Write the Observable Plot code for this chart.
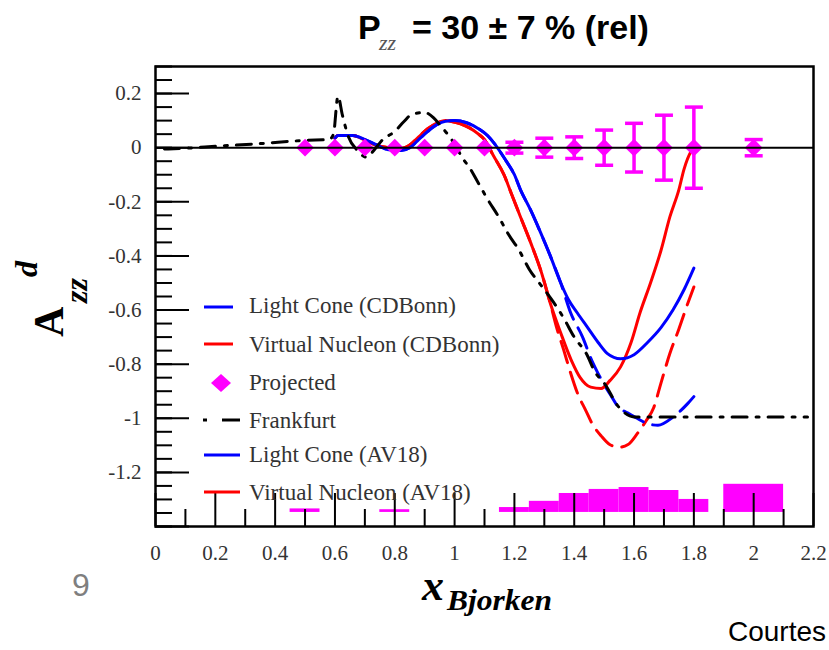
<!DOCTYPE html>
<html><head><meta charset="utf-8">
<script src="https://cdn.jsdelivr.net/npm/d3@7"></script>
<script src="https://cdn.jsdelivr.net/npm/@observablehq/plot@0.6"></script>
<style>
body{margin:0;background:#fff;}
#wrap{position:relative;width:829px;height:650px;overflow:hidden;background:#fff;}
#wrap svg{position:absolute;left:0;top:0;}
</style></head><body><div id="wrap"></div>
<script>
// ---- tick labels ----
const xTickLabels = [0,0.2,0.4,0.6,0.8,1,1.2,1.4,1.6,1.8,2,2.2];
const yTickLabels = [0.2,0,-0.2,-0.4,-0.6,-0.8,-1,-1.2];
const xMinorTicks = [0.1,0.3,0.5,0.7,0.9,1.1,1.3,1.5,1.7,1.9,2.1];
const yMajorTicks = [-1.4,-1.2,-1,-0.8,-0.6,-0.4,-0.2,0,0.2];
const yMinorTicks = d3.range(-28, 7).map(i => i * 0.05);

// ---- Projected data ----
const projX   = [0.5,0.6,0.7,0.8,0.9,1.0,1.1,1.2,1.3,1.4,1.5,1.6,1.7,1.8,2.0];
const projY   = [0,0,0,0,0,0,0,0,0,0,0,0,0,0,0];
const projErr = [0,0,0,0,0,0,0,0.02,0.035,0.04,0.065,0.09,0.12,0.15,0.03];

// ---- systematic band (bottom) ----
const sysLo  = [0.45,0.75,1.15,1.25,1.35,1.45,1.55,1.65,1.75,1.9];
const sysHi  = [0.55,0.85,1.25,1.35,1.45,1.55,1.65,1.75,1.85,2.1];
const sysTop = [-1.335,-1.338,-1.330,-1.307,-1.278,-1.263,-1.256,-1.267,-1.30,-1.244];
const sysBase = -1.348;

// ---- Light Cone (AV18) ----
const lcAV18X = [0.60,0.61,0.66,0.70,0.74,0.78,0.82,0.85,0.88,0.91,0.94,0.97,1.00,1.04,1.08,1.11,1.14,1.17,1.20,1.22,1.254,1.288,1.32,1.355,1.38,1.41,1.445,1.48,1.51,1.555,1.60,1.645,1.69,1.73,1.767,1.80];
const lcAV18Y = [0.035,0.045,0.045,0.03,0.01,-0.008,-0.01,0.0,0.03,0.06,0.085,0.098,0.10,0.092,0.07,0.045,0.005,-0.045,-0.10,-0.155,-0.23,-0.315,-0.40,-0.50,-0.56,-0.61,-0.665,-0.72,-0.76,-0.78,-0.765,-0.72,-0.665,-0.60,-0.525,-0.445];

// ---- Light Cone (CDBonn) ----
const lcCDBX = [0.60,0.61,0.66,0.70,0.74,0.78,0.82,0.85,0.88,0.91,0.94,0.97,1.00,1.04,1.08,1.11,1.14,1.17,1.20,1.22,1.254,1.288,1.32,1.355,1.388,1.428,1.46,1.48,1.50,1.525,1.545,1.578,1.61,1.645,1.68,1.73,1.78,1.80];
const lcCDBY = [0.035,0.045,0.045,0.03,0.01,-0.008,-0.01,0.0,0.03,0.06,0.085,0.098,0.10,0.092,0.07,0.045,0.005,-0.045,-0.10,-0.155,-0.23,-0.315,-0.40,-0.50,-0.61,-0.70,-0.79,-0.835,-0.875,-0.92,-0.955,-0.98,-1.0,-1.02,-1.026,-0.996,-0.945,-0.92];

// ---- Virtual Nucleon (AV18) ----
const vnAV18X = [0.60,0.61,0.66,0.70,0.74,0.78,0.82,0.85,0.88,0.91,0.94,0.97,0.99,1.02,1.05,1.08,1.10,1.13,1.165,1.19,1.22,1.254,1.29,1.32,1.355,1.39,1.42,1.455,1.49,1.52,1.555,1.59,1.62,1.655,1.69,1.72,1.75,1.767,1.79,1.80];
const vnAV18Y = [0.035,0.045,0.045,0.028,0.008,0.0,-0.003,0.01,0.04,0.07,0.09,0.10,0.097,0.088,0.073,0.05,0.03,-0.03,-0.10,-0.17,-0.255,-0.35,-0.46,-0.575,-0.685,-0.785,-0.85,-0.885,-0.89,-0.86,-0.81,-0.72,-0.61,-0.50,-0.38,-0.255,-0.155,-0.08,-0.015,0.0];

// ---- Virtual Nucleon (CDBonn) ----
const vnCDBX = [0.60,0.61,0.66,0.70,0.74,0.78,0.82,0.85,0.88,0.91,0.94,0.97,0.99,1.02,1.05,1.08,1.10,1.13,1.165,1.19,1.22,1.254,1.29,1.32,1.34,1.365,1.388,1.41,1.438,1.46,1.49,1.52,1.55,1.58,1.61,1.64,1.666,1.69,1.72,1.75,1.775,1.80];
const vnCDBY = [0.035,0.045,0.045,0.028,0.008,0.0,-0.003,0.01,0.04,0.07,0.09,0.10,0.097,0.088,0.073,0.05,0.03,-0.03,-0.10,-0.17,-0.255,-0.35,-0.46,-0.575,-0.66,-0.748,-0.833,-0.905,-0.97,-1.02,-1.065,-1.098,-1.107,-1.097,-1.058,-1.01,-0.96,-0.87,-0.76,-0.67,-0.59,-0.515];

// ---- Frankfurt ----
const frX = [0.03,0.1,0.2,0.35,0.5,0.58,0.595,0.61,0.625,0.645,0.675,0.705,0.73,0.76,0.80,0.83,0.86,0.90,0.93,0.95,0.99,1.03,1.05,1.077,1.11,1.147,1.18,1.215,1.25,1.29,1.33,1.365,1.40,1.44,1.47,1.50,1.55,1.60,1.65,2.18];
const frY = [-0.005,-0.002,0.005,0.015,0.027,0.03,0.05,0.19,0.12,0.04,-0.01,-0.035,-0.01,0.03,0.06,0.096,0.125,0.13,0.11,0.085,0.03,-0.044,-0.074,-0.126,-0.19,-0.255,-0.32,-0.378,-0.45,-0.51,-0.57,-0.63,-0.70,-0.76,-0.83,-0.87,-0.96,-0.995,-0.995,-0.995];

// ---- build tables ----
const pts = (xs, ys) => xs.map((x, i) => ({x, y: ys[i]}));
const proj = projX.map((x, i) => ({x, y: projY[i], e: projErr[i]}));
const projE = proj.filter(d => d.e > 0);
const sys = sysLo.map((lo, i) => ({lo, hi: sysHi[i], top: sysTop[i]}));

const BLUE = "#0000ff", RED = "#ff0000", MAG = "#ff00ff";
const W = 829, H = 650, mT = 66, mB = 124, mL = 155, mR = 16;
const fw = W - mL - mR, fh = H - mT - mB;
const serif = "'Liberation Serif','Times New Roman',serif";
const fmt = d => String(Math.round(d * 10) / 10);
const cap = {draw(ctx, size) { const r = Math.sqrt(size / Math.PI); ctx.moveTo(-r, 0); ctx.lineTo(r, 0); }};
const lineOpts = {x: "x", y: "y", strokeWidth: 3, curve: "monotone-x"};

const plot = Plot.plot({
  width: W, height: H,
  marginTop: mT, marginBottom: mB, marginLeft: mL, marginRight: mR,
  x: {domain: [0, 2.2], axis: null},
  y: {domain: [-1.4, 0.3], axis: null},
  style: {fontFamily: serif, fontSize: "21px", background: "transparent", overflow: "visible"},
  marks: [
    Plot.rect(sys, {x1: "lo", x2: "hi", y1: () => sysBase, y2: "top", fill: MAG}),
    Plot.line(pts(vnCDBX, vnCDBY), {...lineOpts, stroke: RED, strokeDasharray: "22,10"}),
    Plot.line(pts(lcCDBX, lcCDBY), {...lineOpts, stroke: BLUE, strokeDasharray: "22,10"}),
    Plot.line(pts(vnAV18X, vnAV18Y), {...lineOpts, stroke: RED}),
    Plot.line(pts(lcAV18X, lcAV18Y), {...lineOpts, stroke: BLUE}),
    Plot.line(pts(frX, frY), {...lineOpts, stroke: "black", strokeDasharray: "15,9,3,9"}),
    Plot.ruleX(projE, {x: "x", y1: d => d.y - d.e, y2: d => d.y + d.e, stroke: MAG, strokeWidth: 3.5}),
    Plot.dot(projE, {x: "x", y: d => d.y + d.e, symbol: cap, r: 9, stroke: MAG, strokeWidth: 3.5, fill: "none"}),
    Plot.dot(projE, {x: "x", y: d => d.y - d.e, symbol: cap, r: 9, stroke: MAG, strokeWidth: 3.5, fill: "none"}),
    Plot.dot(proj, {x: "x", y: "y", symbol: "diamond2", r: 8, fill: MAG, stroke: "none"}),
    Plot.ruleY([0], {stroke: "black", strokeWidth: 2}),
    Plot.tickX(xTickLabels, {x: d => d, insetTop: fh - 33, stroke: "black", strokeWidth: 2}),
    Plot.tickX(xMinorTicks, {x: d => d, insetTop: fh - 17, stroke: "black", strokeWidth: 2}),
    Plot.tickY(yMajorTicks, {y: d => d, insetRight: fw - 34, stroke: "black", strokeWidth: 2}),
    Plot.tickY(yMinorTicks, {y: d => d, insetRight: fw - 17, stroke: "black", strokeWidth: 2}),
    Plot.text(xTickLabels, {x: d => d, frameAnchor: "bottom", dy: 19, lineAnchor: "top", text: fmt, fill: "#333", fontSize: 21}),
    Plot.text(yTickLabels, {y: d => d, frameAnchor: "left", dx: -14, textAnchor: "end", text: fmt, fill: "#333", fontSize: 21}),
    Plot.frame({stroke: "black", strokeWidth: 2.5})
  ]
});
const wrap = document.getElementById("wrap");
wrap.appendChild(plot);

// ---- overlay: titles, axis labels, legend ----
const sans = "'Liberation Sans',Arial,sans-serif";
const ov = `
<svg width="829" height="650" xmlns="http://www.w3.org/2000/svg">
  <g font-family="${sans}" font-weight="bold" font-size="34" fill="#000">
    <text x="358" y="39">P</text>
    <text x="412" y="39">= 30 ± 7 % (rel)</text>
  </g>
  <text x="379" y="50" font-family="${serif}" font-style="italic" font-size="22" fill="#555">zz</text>

  <text transform="translate(63,337) rotate(-90)" font-family="${serif}" font-weight="bold" fill="#000">
    <tspan x="0" y="0" font-size="42">A</tspan>
    <tspan x="34" y="24" font-size="32" font-style="italic">zz</tspan>
    <tspan x="60" y="-26" font-size="32" font-style="italic">d</tspan>
  </text>

  <text x="422" y="600" font-family="${serif}" font-weight="bold" font-style="italic" font-size="44">x</text>
  <text x="447" y="610" font-family="${serif}" font-weight="bold" font-style="italic" font-size="29" textLength="105" lengthAdjust="spacingAndGlyphs">Bjorken</text>

  <text x="72" y="596" font-family="${sans}" font-size="32" fill="#7f7f7f">9</text>
  <text x="728" y="641" font-family="${sans}" font-size="28" fill="#000" textLength="98" lengthAdjust="spacingAndGlyphs">Courtes</text>

  <g stroke-width="3" fill="none">
    <line x1="204" x2="233" y1="307" y2="307" stroke="${BLUE}"/>
    <line x1="204" x2="233" y1="344" y2="344" stroke="${RED}"/>
    <line x1="203" x2="207" y1="420" y2="420" stroke="#000"/>
    <line x1="222" x2="240" y1="420" y2="420" stroke="#000"/>
    <line x1="204" x2="240" y1="455" y2="455" stroke="${BLUE}"/>
    <line x1="204" x2="240" y1="492" y2="492" stroke="${RED}"/>
  </g>
  <polygon points="221,374 231,383 221,392 211,383" fill="${MAG}"/>
  <g font-family="${serif}" font-size="23" fill="#333">
    <text x="249" y="313">Light Cone (CDBonn)</text>
    <text x="249" y="352">Virtual Nucleon (CDBonn)</text>
    <text x="249" y="390">Projected</text>
    <text x="249" y="428">Frankfurt</text>
    <text x="249" y="462">Light Cone (AV18)</text>
    <text x="249" y="500">Virtual Nucleon (AV18)</text>
  </g>
</svg>`;
const holder = document.createElement("div");
holder.innerHTML = ov;
wrap.appendChild(holder.firstElementChild);
</script></body></html>
